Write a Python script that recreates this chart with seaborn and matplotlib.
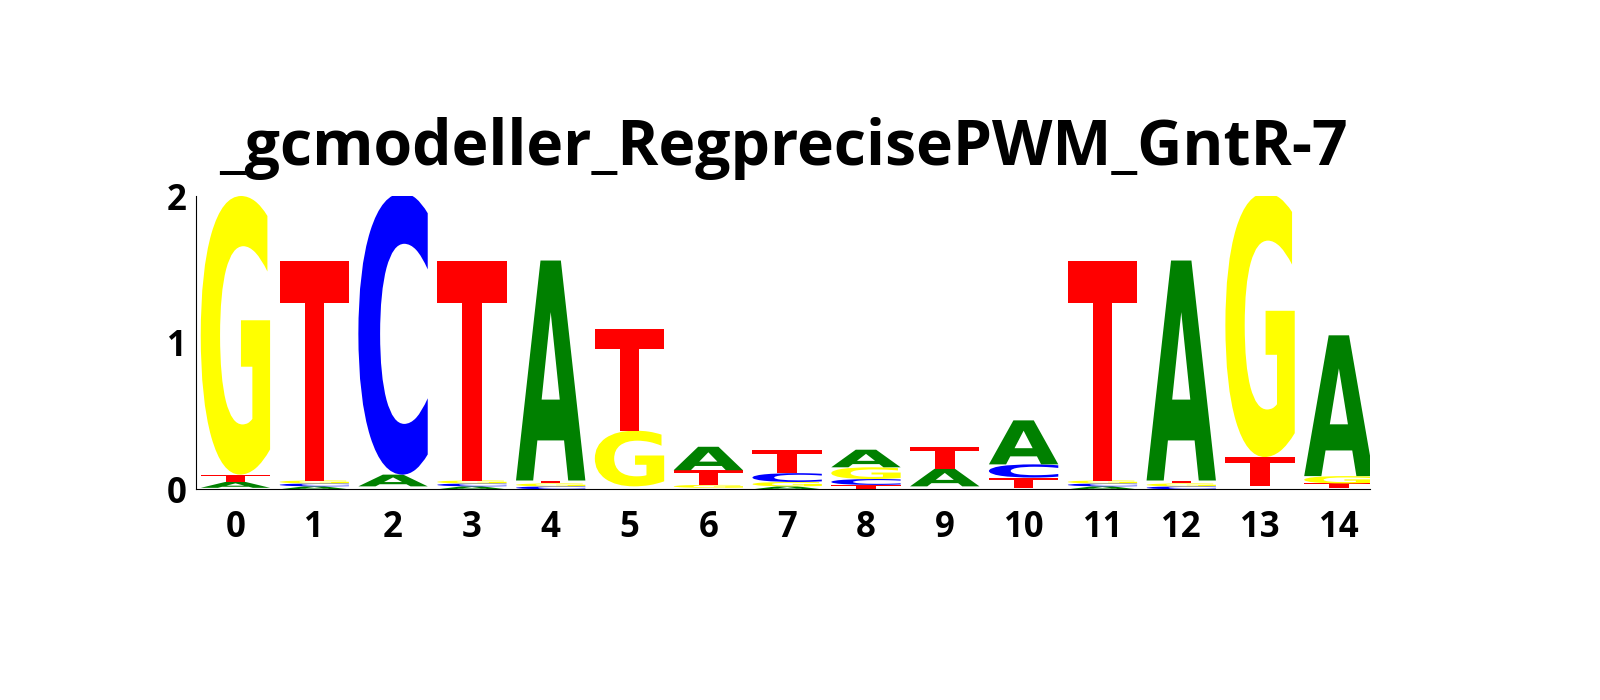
import numpy as np
import matplotlib
matplotlib.use("Agg")
import matplotlib.pyplot as plt
import seaborn as sns
from matplotlib.textpath import TextPath
from matplotlib.patches import PathPatch
from matplotlib.font_manager import FontProperties
from matplotlib.transforms import Affine2D

# letter heights (bits) per position
positions = list(range(15))
A = [0.04, 0.02, 0.08, 0.02, 1.50, 0.01, 0.16, 0.02, 0.12, 0.12, 0.30, 0.02, 1.50, 0.01, 0.96]
C = [0.01, 0.02, 1.92, 0.02, 0.02, 0.01, 0.01, 0.06, 0.04, 0.01, 0.09, 0.02, 0.02, 0.01, 0.01]
G = [1.90, 0.02, 0.01, 0.02, 0.02, 0.38, 0.02, 0.03, 0.08, 0.01, 0.01, 0.02, 0.02, 1.80, 0.05]
T = [0.05, 1.50, 0.01, 1.50, 0.02, 0.69, 0.10, 0.16, 0.03, 0.15, 0.07, 1.50, 0.02, 0.20, 0.03]
title = "_gcmodeller_RegprecisePWM_GntR-7"

colors = {"A": "green", "C": "blue", "G": "yellow", "T": "red"}

sns.set_style("white")
plt.rcParams['font.family'] = ['Open Sans', 'DejaVu Sans']
plt.rcParams['text.color'] = 'black'
plt.rcParams['xtick.color'] = 'black'
plt.rcParams['ytick.color'] = 'black'

fig = plt.figure(figsize=(16, 7), dpi=100)
ax = fig.add_axes([0.1225, 0.301, 0.734, 0.419])
fp = FontProperties(family="DejaVu Sans", weight="bold")

def draw_letter(ax, ch, x, y, h, w=0.88):
    if h < 0.015:
        return
    tp = TextPath((0, 0), ch, size=1, prop=fp)
    bb = tp.get_extents()
    tr = (Affine2D().translate(-bb.x0, -bb.y0)
          .scale(w / bb.width, h / bb.height)
          .translate(x - w / 2, y))
    ax.add_patch(PathPatch(tr.transform_path(tp), facecolor=colors[ch], edgecolor="none"))

for i in positions:
    stack = sorted(zip([A[i], C[i], G[i], T[i]], "ACGT"))
    y = 0
    for h, ch in stack:
        draw_letter(ax, ch, i, y, h)
        y += h

ax.set_xlim(-0.5, 14.4)
ax.set_ylim(0, 2)
ax.set_xticks(positions)
ax.set_yticks([0, 1, 2])
ax.tick_params(axis="both", labelsize=25, length=3, width=0.8, colors="black")
ax.tick_params(axis="x", pad=12)
for lab in ax.get_xticklabels() + ax.get_yticklabels():
    lab.set_fontweight("bold")
for s in ["top", "right"]:
    ax.spines[s].set_visible(False)
for s in ["left", "bottom"]:
    ax.spines[s].set_color("black")
    ax.spines[s].set_linewidth(0.8)
ax.set_title(title, fontsize=45, fontweight="bold", pad=22, color="black")

fig.savefig("out.png", dpi=100)
